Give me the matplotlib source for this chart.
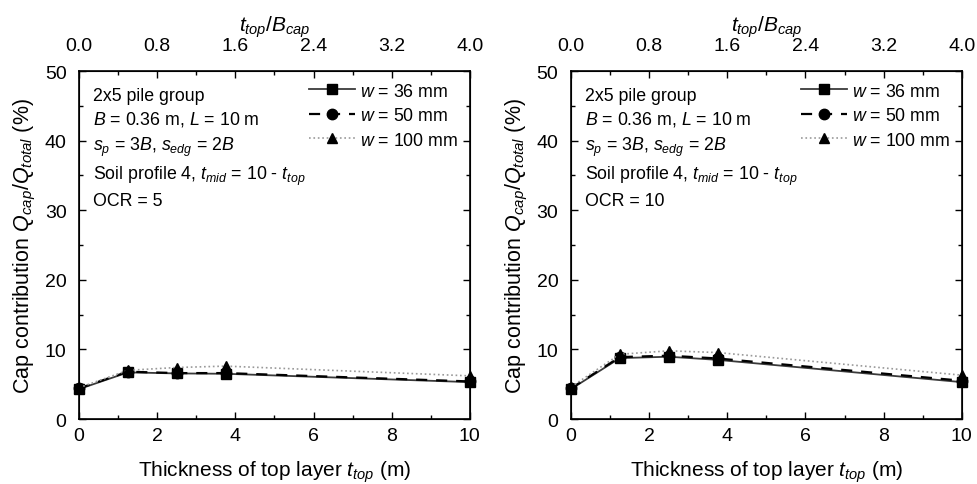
import numpy as np
import matplotlib
matplotlib.use('Agg')
import matplotlib.pyplot as plt
from matplotlib.ticker import MultipleLocator

plt.rcParams['font.family'] = ['Liberation Sans', 'DejaVu Sans']
plt.rcParams['mathtext.fontset'] = 'custom'
plt.rcParams['mathtext.rm'] = 'Liberation Sans'
plt.rcParams['mathtext.it'] = 'Liberation Sans:italic'
plt.rcParams['mathtext.bf'] = 'Liberation Sans:bold'

# data
t_top = [0, 1.25, 2.5, 3.75, 10]
B_cap = 2.5
ocr_values = [5, 10]
w_labels = ['$w$ = 36 mm', '$w$ = 50 mm', '$w$ = 100 mm']

ocr5_w36 = [4.3, 6.7, 6.55, 6.5, 5.3]
ocr5_w50 = [4.4, 6.8, 6.6, 6.6, 5.4]
ocr5_w100 = [4.5, 7.0, 7.4, 7.6, 6.2]

ocr10_w36 = [4.3, 8.75, 8.95, 8.5, 5.3]
ocr10_w50 = [4.4, 8.9, 9.1, 8.7, 5.5]
ocr10_w100 = [4.6, 9.3, 9.8, 9.55, 6.3]

panels = [
    [ocr5_w36, ocr5_w50, ocr5_w100],
    [ocr10_w36, ocr10_w50, ocr10_w100],
]

styles = [
    dict(color='#3a3a3a', ls='-', marker='s', lw=1.3, mfc='black', mec='black'),
    dict(color='black', ls=(0, (5, 4)), marker='o', lw=1.6, mfc='black', mec='black'),
    dict(color='#999999', ls=':', marker='^', lw=1.2, mfc='black', mec='black'),
]

fig = plt.figure(figsize=(9.77, 4.85), dpi=100)
lefts = [0.0809, 0.5844]

for i in range(2):
    ax = fig.add_axes([lefts[i], 0.134, 0.400, 0.7175])
    for ys, st, lab in zip(panels[i], styles, w_labels):
        ax.plot(t_top, ys, ms=7.5, label=lab, clip_on=False, **st)

    ax.set_xlim(0, 10)
    ax.set_ylim(0, 50)
    ax.xaxis.set_major_locator(MultipleLocator(2))
    ax.xaxis.set_minor_locator(MultipleLocator(1))
    ax.yaxis.set_major_locator(MultipleLocator(10))
    ax.yaxis.set_minor_locator(MultipleLocator(5))
    ax.tick_params(which='both', direction='in', right=True, labelsize=14)
    ax.tick_params(axis='x', pad=6)
    ax.tick_params(axis='y', pad=9)
    ax.tick_params(which='major', length=5, width=1)
    ax.tick_params(which='minor', length=3, width=1)
    for sp in ax.spines.values():
        sp.set_linewidth(1.2)

    ax.set_xlabel('Thickness of top layer $t_{top}$ (m)', fontsize=15, labelpad=10)
    ax.set_ylabel('Cap contribution $Q_{cap}/Q_{total}$ (%)', fontsize=15.5, labelpad=5)

    # top axis in t_top / B_cap
    top = ax.twiny()
    top.set_xlim(0, 10 / B_cap)
    top.xaxis.set_major_locator(MultipleLocator(0.8))
    top.xaxis.set_minor_locator(MultipleLocator(0.4))
    top.xaxis.set_major_formatter(matplotlib.ticker.FormatStrFormatter('%.1f'))
    top.tick_params(which='both', direction='in', labelsize=14, pad=12)
    top.tick_params(which='major', length=5, width=1)
    top.tick_params(which='minor', length=3, width=1)
    top.set_xlabel('$t_{top}/B_{cap}$', fontsize=15, labelpad=5)

    txt = ('2x5 pile group\n'
           '$B$ = 0.36 m, $L$ = 10 m\n'
           '$s_p$ = 3$B$, $s_{edg}$ = 2$B$\n'
           'Soil profile 4, $t_{mid}$ = 10 - $t_{top}$\n'
           'OCR = %d' % ocr_values[i])
    ax.text(0.035, 0.955, txt, transform=ax.transAxes, fontsize=12.8,
            va='top', ha='left', linespacing=1.4)

    leg = ax.legend(loc='upper right', fontsize=12.8, frameon=False,
                    handlelength=2.6, handletextpad=0.3, labelspacing=0.42,
                    borderaxespad=0.25, markerscale=1.0)

fig.savefig('out.png', dpi=100)
